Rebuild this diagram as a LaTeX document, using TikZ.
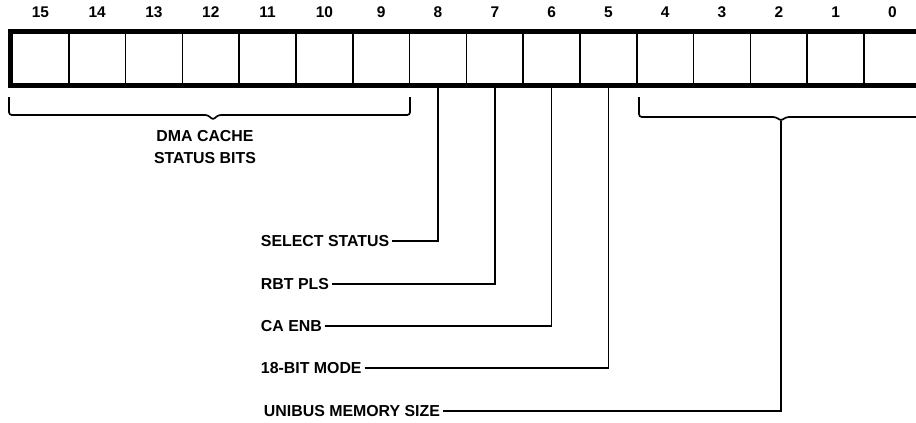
\documentclass[tikz,border=0pt]{standalone}
\usepackage{fontspec}
\setmainfont{Liberation Sans}

\begin{document}
\begin{tikzpicture}[x=0.025cm,y=-0.025cm,line width=1.2pt,
  bitnum/.style={font=\bfseries\fontsize{11}{13}\selectfont,inner sep=0pt},
  fieldlabel/.style={font=\bfseries\fontsize{11.3}{15}\selectfont,anchor=west,inner sep=1.5pt}]
  \useasboundingbox (0,0) rectangle (916,422);
  % register, open on the right
  \draw[line width=3.4pt] (916,31.5) -| (10.5,85.5) -- (916,85.5);
  \foreach \k in {1,...,15}
    \draw (12+56.8*\k,31.5) -- (12+56.8*\k,85.5);
  \foreach \b in {0,...,15}{
    \node[bitnum] (n\b) at (892.4-56.8*\b,12.5) {\b};
    \coordinate (b\b) at (892.4-56.8*\b,87.5);
  }
  % brackets
  \coordinate (dmatip) at (213,120);
  \coordinate (memtip) at (781,121);
  \draw[rounded corners=2pt] (9,97) -- (9,115) -- (208,115) -- (dmatip)
    -- (218,115) -- (410,115) -- (410,97);
  \draw[rounded corners=2pt] (639,97) -- (639,117) -- (776,117) -- (memtip)
    -- (786,117) -- (916,117);
  \node[font=\bfseries\fontsize{11.3}{15}\selectfont,align=center] (dma) at (205,147)
    {DMA CACHE\\STATUS BITS};
  % field labels
  \node[fieldlabel] (sel) at (258,241) {SELECT STATUS};
  \node[fieldlabel] (rbt) at (258,284) {RBT PLS};
  \node[fieldlabel] (ca) at (258,326) {CA ENB};
  \node[fieldlabel] (mode) at (258,368) {18-BIT MODE};
  \node[fieldlabel] (uni) at (261,411) {UNIBUS MEMORY SIZE};
  \draw (sel.east) -| (b8);
  \draw (rbt.east) -| (b7);
  \draw (ca.east) -| (b6);
  \draw (mode.east) -| (b5);
  \draw (memtip) |- (uni.east);
\end{tikzpicture}
\end{document}
